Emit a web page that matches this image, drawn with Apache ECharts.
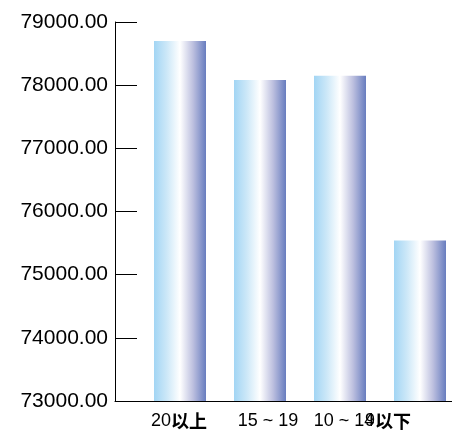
<!DOCTYPE html>
<html>
<head>
<meta charset="utf-8">
<script src="https://cdn.jsdelivr.net/npm/echarts@6/dist/echarts.min.js"></script>
<style>
  html, body { margin: 0; padding: 0; background: #ffffff; }
  #chart { width: 452px; height: 439px; }
</style>
</head>
<body>
<div id="chart"></div>
<script>
// Age bands and their values
const categories = ['20以上', '15 ~ 19', '10 ~ 14', '9以下'];
const values = [78700, 78080, 78150, 75540];
const yTicks = { min: 73000, max: 79000, step: 1000 };

// horizontal nudge (px) applied to each category label
const labelShift = [0, 11, 9, -25];

const chart = echarts.init(document.getElementById('chart'), null, { renderer: 'canvas' });

const FONT = '"Liberation Sans", "Noto Sans CJK SC", sans-serif';
const CJK = '"Noto Sans CJK SC", sans-serif';

const barGradient = new echarts.graphic.LinearGradient(0, 0, 1, 0, [
  { offset: 0, color: '#a2d5f4' },
  { offset: 0.25, color: '#cde8f8' },
  { offset: 0.5, color: '#ffffff' },
  { offset: 0.75, color: '#bdc0df' },
  { offset: 1, color: '#687dbf' }
]);

// label text is split into latin and CJK runs, each with its own style;
// the first/last run carries the padding that nudges the label sideways
function buildLabel(v, i) {
  const runs = v.match(/[\u4e00-\u9fff]+|[^\u4e00-\u9fff]+/g) || [v];
  const s = labelShift[i];
  return runs.map((r, k) => {
    const kind = /[\u4e00-\u9fff]/.test(r) ? 'c' : 'd';
    let tag = kind;
    if (s > 0 && k === 0) tag = kind + 'L' + i;
    if (s < 0 && k === runs.length - 1) tag = kind + 'R' + i;
    return '{' + tag + '|' + r + '}';
  }).join('');
}

const base = {
  d: { fontSize: 18, fontFamily: FONT, color: '#000' },
  c: { fontSize: 18, fontFamily: CJK, fontWeight: 'bold', color: '#000' }
};
const rich = { d: base.d, c: base.c };
labelShift.forEach((s, i) => {
  ['d', 'c'].forEach(kind => {
    rich[kind + 'L' + i] = Object.assign({}, base[kind], { padding: [0, 0, 0, 2 * Math.max(s, 0)] });
    rich[kind + 'R' + i] = Object.assign({}, base[kind], { padding: [0, 2 * Math.max(-s, 0), 0, 0] });
  });
});

chart.setOption({
  animation: false,
  backgroundColor: '#ffffff',
  grid: [
    { left: 140, right: 0, top: 22, bottom: 38 },
    { left: 115, right: 0, top: 22, bottom: 38 }
  ],
  xAxis: [
    {
      // category labels along the bottom
      type: 'category',
      gridIndex: 0,
      data: categories,
      axisLine: { show: false },
      axisTick: { show: false },
      axisLabel: {
        margin: 11,
        interval: 0,
        formatter: buildLabel,
        rich: rich
      }
    },
    {
      // positions the bars: one unit per category
      type: 'value',
      gridIndex: 0,
      min: -0.5,
      max: 3.4,
      show: false
    },
    {
      // bottom baseline running from the value axis
      type: 'value',
      gridIndex: 1,
      min: 0, max: 1,
      axisLine: { show: true, onZero: false, lineStyle: { color: '#000', width: 1 } },
      axisTick: { show: false },
      axisLabel: { show: false },
      splitLine: { show: false }
    }
  ],
  yAxis: [
    {
      type: 'value',
      gridIndex: 0,
      min: yTicks.min,
      max: yTicks.max,
      interval: yTicks.step,
      offset: 25,
      axisLine: { show: true, onZero: false, lineStyle: { color: '#000', width: 1 } },
      axisTick: { show: true, inside: true, length: 22, lineStyle: { color: '#000' } },
      splitLine: { show: false },
      axisLabel: {
        margin: 7,
        fontSize: 21,
        fontFamily: FONT,
        color: '#000',
        formatter: v => v.toFixed(2)
      }
    },
    {
      type: 'value',
      gridIndex: 1,
      show: false
    }
  ],
  series: [
    {
      type: 'bar',
      xAxisIndex: 1,
      yAxisIndex: 0,
      data: values.map((v, i) => [i, v]),
      barWidth: 52,
      itemStyle: { color: barGradient }
    }
  ]
});
</script>
</body>
</html>
